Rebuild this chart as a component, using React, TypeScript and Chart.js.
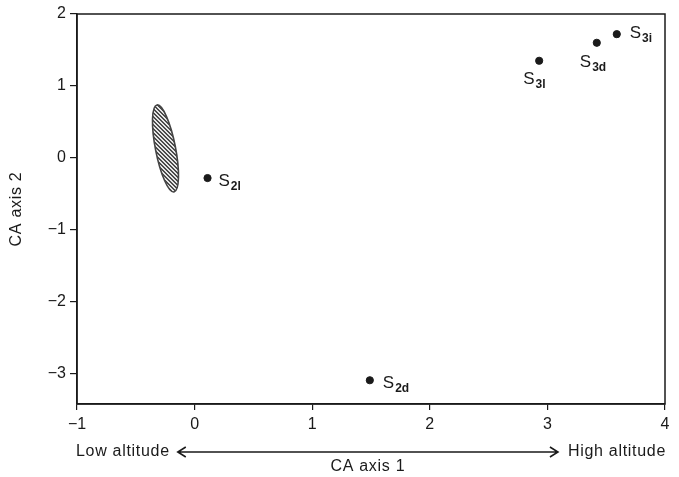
import React, { useEffect, useRef } from "react";
import { Chart, registerables } from "chart.js";

Chart.register(...registerables);

// ---- data ----
const siteSubs = ["2l", "2d", "3l", "3d", "3i"];
const siteX = [0.11, 1.49, 2.93, 3.42, 3.59];
const siteY = [-0.28, -3.09, 1.35, 1.6, 1.72];
const xTicks = [-1, 0, 1, 2, 3, 4];
const yTicks = [-3, -2, -1, 0, 1, 2];
// ellipse: two ends of the major axis (data units) and half-width along x (data units)
const ellipseTop = [-0.32, 0.736];
const ellipseBottom = [-0.175, -0.472];
const ellipseHalfWidth = 0.085;
const xAxisTitle = "CA axis 1";
const yAxisTitle = "CA axis 2";
const lowLabel = "Low altitude";
const highLabel = "High altitude";

// ---- styles ----
const FONT = "'Liberation Sans', Arial, Helvetica, sans-serif";
const INK = "#1a1a1a";
const labelOffsets = [
  [11, 8],
  [13, 8],
  [-16, 23],
  [-17, 24],
  [13, 4],
];

const fmt = (v: number) => (v < 0 ? "\u2212" + Math.abs(v) : String(v));

const decorPlugin = {
  id: "decor",
  beforeDatasetsDraw(chart: any) {
    const { ctx, chartArea, scales } = chart;
    const xs = scales.x;
    const ys = scales.y;
    // frame
    ctx.save();
    ctx.strokeStyle = INK;
    ctx.lineWidth = 1.5;
    ctx.strokeRect(chartArea.left, chartArea.top, chartArea.right - chartArea.left, chartArea.bottom - chartArea.top);
    ctx.restore();

    // ellipse
    const x1 = xs.getPixelForValue(ellipseTop[0]);
    const y1 = ys.getPixelForValue(ellipseTop[1]);
    const x2 = xs.getPixelForValue(ellipseBottom[0]);
    const y2 = ys.getPixelForValue(ellipseBottom[1]);
    const cx = (x1 + x2) / 2;
    const cy = (y1 + y2) / 2;
    const a = Math.hypot(x2 - x1, y2 - y1) / 2;
    const ang = Math.atan2(y2 - y1, x2 - x1);
    const b = ellipseHalfWidth * (xs.getPixelForValue(1) - xs.getPixelForValue(0));
    ctx.save();
    ctx.beginPath();
    ctx.ellipse(cx, cy, a, b, ang, 0, Math.PI * 2);
    ctx.save();
    ctx.clip();
    ctx.strokeStyle = "#333";
    ctx.lineWidth = 1.4;
    const R = a + 4;
    ctx.beginPath();
    for (let t = -2 * R; t <= 2 * R; t += 4) {
      ctx.moveTo(cx + t - R, cy - R);
      ctx.lineTo(cx + t + R, cy + R);
    }
    ctx.stroke();
    ctx.restore();
    ctx.beginPath();
    ctx.ellipse(cx, cy, a, b, ang, 0, Math.PI * 2);
    ctx.strokeStyle = "#444";
    ctx.lineWidth = 1.6;
    ctx.stroke();
    ctx.restore();
  },
  afterDatasetsDraw(chart: any) {
    const { ctx, chartArea, scales } = chart;
    const xs = scales.x;
    const ys = scales.y;
    ctx.save();
    ctx.fillStyle = INK;
    ctx.textBaseline = "alphabetic";
    ctx.textAlign = "left";
    siteSubs.forEach((sub, i) => {
      const px = xs.getPixelForValue(siteX[i]) + labelOffsets[i][0];
      const py = ys.getPixelForValue(siteY[i]) + labelOffsets[i][1];
      ctx.font = `17px ${FONT}`;
      ctx.fillText("S", px, py);
      const w = ctx.measureText("S").width;
      ctx.font = `bold 12px ${FONT}`;
      ctx.fillText(sub, px + w + 1, py + 4);
    });

    (ctx as any).letterSpacing = "0.7px";
    // bottom row: Low altitude <----> High altitude
    const rowY = 452;
    ctx.font = `16px ${FONT}`;
    ctx.textBaseline = "middle";
    ctx.textAlign = "left";
    ctx.fillText(lowLabel, chartArea.left - 1, rowY);
    const lowW = ctx.measureText(lowLabel).width;
    ctx.textAlign = "right";
    ctx.fillText(highLabel, chartArea.right + 1, rowY);
    const highW = ctx.measureText(highLabel).width;
    const ax1 = chartArea.left - 1 + lowW + 8;
    const ax2 = chartArea.right + 1 - highW - 10;
    ctx.strokeStyle = INK;
    ctx.lineWidth = 1.6;
    ctx.beginPath();
    ctx.moveTo(ax1, rowY);
    ctx.lineTo(ax2, rowY);
    ctx.moveTo(ax1 + 8, rowY - 5);
    ctx.lineTo(ax1, rowY);
    ctx.lineTo(ax1 + 8, rowY + 5);
    ctx.moveTo(ax2 - 8, rowY - 5);
    ctx.lineTo(ax2, rowY);
    ctx.lineTo(ax2 - 8, rowY + 5);
    ctx.stroke();
    ctx.textAlign = "center";
    ctx.fillText(xAxisTitle, (ax1 + ax2) / 2, 467);

    // y axis title
    ctx.translate(17, (chartArea.top + chartArea.bottom) / 2);
    ctx.rotate(-Math.PI / 2);
    ctx.textAlign = "center";
    ctx.textBaseline = "middle";
    ctx.fillText(yAxisTitle, 0, 0);
    ctx.restore();
  },
};

export default function App() {
  const ref = useRef<HTMLCanvasElement>(null);
  useEffect(() => {
    if (!ref.current) return;
    const chart = new Chart(ref.current, {
      type: "scatter",
      data: {
        datasets: [
          {
            data: siteX.map((x, i) => ({ x, y: siteY[i] })),
            backgroundColor: INK,
            borderColor: INK,
            pointRadius: 3.6,
            pointHoverRadius: 3.6,
          },
        ],
      },
      options: {
        responsive: false,
        animation: false,
        events: [],
        layout: { padding: { top: 14, right: 14, left: 0, bottom: 0 } },
        plugins: {
          legend: { display: false },
          tooltip: { enabled: false },
        },
        scales: {
          x: {
            type: "linear",
            min: -1,
            max: 4,
            afterBuildTicks: (s: any) => {
              s.ticks = xTicks.map((v) => ({ value: v }));
            },
            afterFit: (s: any) => {
              s.height = 73;
            },
            grid: { drawOnChartArea: false, drawTicks: true, tickLength: 6, color: INK, lineWidth: 1.2 },
            border: { display: true, color: INK, width: 1.5 },
            ticks: {
              color: INK,
              font: { size: 16, family: FONT },
              padding: 5,
              callback: (v: any) => fmt(Number(v)),
            },
          },
          y: {
            type: "linear",
            min: -3.42,
            max: 2,
            afterBuildTicks: (s: any) => {
              s.ticks = yTicks.map((v) => ({ value: v }));
            },
            afterFit: (s: any) => {
              s.width = 77;
            },
            grid: { drawOnChartArea: false, drawTicks: true, tickLength: 7, color: INK, lineWidth: 1.2 },
            border: { display: true, color: INK, width: 1.5 },
            ticks: {
              color: INK,
              font: { size: 16, family: FONT },
              padding: 4,
              callback: (v: any) => fmt(Number(v)),
            },
          },
        },
      },
      plugins: [decorPlugin],
    } as any);
    return () => chart.destroy();
  }, []);
  return (
    <div style={{ position: "fixed", left: 0, top: 0, width: 679, height: 477, background: "#fff" }}>
      <canvas ref={ref} width={679} height={477} />
    </div>
  );
}
